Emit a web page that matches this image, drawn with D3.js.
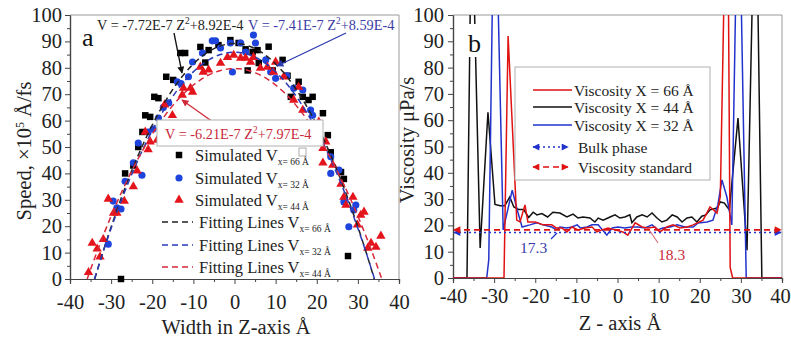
<!DOCTYPE html>
<html><head><meta charset="utf-8">
<script src="https://cdn.jsdelivr.net/npm/d3@7"></script>
<style>
body{margin:0;background:#fff}
svg{display:block}
text{font-family:"Liberation Serif","Times New Roman",serif}
</style>
</head><body>
<svg id="c" width="791" height="339"></svg>
<script>
// ---------------- DATA ----------------
const xTicks = [-40,-30,-20,-10,0,10,20,30,40];
const xMinor = [-35,-25,-15,-5,5,15,25,35];
const yTicks = [0,10,20,30,40,50,60,70,80,90,100];
const yMinor = [5,15,25,35,45,55,65,75,85,95];

// Panel a: simulated speed points [z, v]
const sim66 = [[-27.6,0],[-26.6,40],[-24.6,43],[-23.4,50],[-22.4,55.7],[-21.7,62],[-20.5,61.4],[-19.5,69],[-18.5,68.5],[-16.6,76.6],[-14.9,75.4],[-13.2,85.6],[-12,85.6],[-8.3,87.9],[-7.1,82],[-6.3,86.7],[-3.9,88.6],[-1,90.5],[1,89.4],[2.7,87],[3.2,79],[4.4,86],[5.6,86.7],[5.9,81.8],[8.3,88],[9.3,79],[11.7,83],[12.9,77],[13.7,69],[15.6,74.7],[16.6,69],[18,67.8],[19,69],[21.5,62.8],[22.7,54.5],[23.4,48],[25.9,40.5],[26.6,37.9],[27.6,8.7]];
const sim32 = [[-30.7,13.2],[-29.5,29.5],[-28.6,27],[-27.6,26.5],[-26.6,37],[-24.6,44],[-22.5,39.3],[-23.4,51.5],[-21,55.7],[-19.8,56.8],[-18.5,61],[-17.3,65],[-16,66.7],[-13.9,74.7],[-13,74],[-11.2,76.6],[-10.2,82.2],[-7.8,85.6],[-5.4,90.2],[-4.6,90.2],[-3.4,87.5],[-1,89.4],[-0.5,78.4],[1.5,89.4],[2.7,86],[4.6,92.4],[5.1,89.4],[7.6,83],[8.8,78.4],[10,76],[12.7,77],[14.4,72.3],[16.6,71.6],[18.5,64],[19,62],[23.4,46.3],[23.4,40],[25.4,41.3],[26.6,29.2],[27.8,19.8],[29,26.1],[29.5,28]];
const sim44 = [[-35.5,2.5],[-34.6,13.6],[-33.4,11.4],[-32.7,8.4],[-31.9,15],[-30.7,30.3],[-29.4,25],[-28.6,25],[-26.8,29.5],[-24.6,35],[-23.7,41],[-21,49],[-20.5,52],[-21.7,55.7],[-18.8,52.6],[-15.1,62],[-17,66],[-12.7,69.7],[-12.4,72.3],[-10.7,72.3],[-10.2,70.8],[-8.3,80.3],[-7.6,78.4],[-6.3,79.2],[-3.4,81.8],[-1.7,84],[-0.2,84.8],[1.5,83.7],[2.7,83.7],[3.9,82.2],[4.6,84],[6.3,79.9],[8,80.3],[9.5,78.4],[10,82.2],[12,76.6],[14.4,67.8],[15.6,72.7],[16.6,64],[20.5,59.5],[21.5,49.5],[22.2,52],[21.5,44],[23.9,43.2],[25.9,36],[26.6,31],[27.1,28],[28.8,31],[29.9,20.5],[30.7,24.2],[31.5,25.4],[32.4,11.7],[33.2,13.6],[34.4,12.1],[35.6,16.3]];

// Fitting line coefficients (in units of 1e-5 Å/fs): V = a Z^2 + b
const fitA = [-0.0772, -0.0741, -0.0621];
const fitB = [89.2, 85.9, 79.7];

// Panel b: viscosity profiles [z, viscosity]
const visc66 = [[-40,0],[-27.6,0],[-26.6,92],[-24.5,22],[-23.7,21.3],[-22.5,27.8],[-21.8,21.3],[-20,21.3],[-18.1,20.2],[-16,20.2],[-14.8,19],[-13.5,19],[-12.3,17.5],[-11.1,19.4],[-9.6,18.3],[-7.9,19],[-6.2,19.4],[-5,17.5],[-3.8,18.3],[-2.3,19],[-0.6,18.3],[1.3,17.5],[2.5,16.3],[4.3,21],[6,19.4],[7.4,19],[9.1,19.4],[10.3,17.5],[12,19.4],[13.5,20.2],[15.2,19],[16.9,19.4],[18.4,20.2],[20.8,22],[22.5,27],[24.2,24.7],[25,31],[26.4,150],[26.8,150],[27.4,4],[28,0],[40,0]];
const visc44 = [[-40,0],[-36.6,0],[-35.6,130],[-35.2,130],[-33.4,11.4],[-31.5,63],[-29.8,28],[-28.5,27.5],[-27.4,27.5],[-26.2,30.8],[-25.2,27],[-24,26],[-22.8,26],[-21.6,23],[-20.5,25],[-19.6,24],[-18.4,24.5],[-17,23.2],[-15.7,25],[-14,24.7],[-12.3,23.2],[-10.8,24.3],[-9.6,22.8],[-8.4,23.2],[-6.7,22.8],[-5.5,21.3],[-4.7,22.8],[-3.5,22],[-1.8,23.2],[-0.6,24],[0.6,22.8],[1.8,23.2],[3,24],[3.5,21],[4.7,23.2],[6,24],[7.2,23.2],[8.4,24.7],[9.6,22.8],[10.8,21.3],[12,22],[13.3,24],[14.5,23.2],[15.7,21.3],[16.9,22.8],[18.1,23.2],[19.3,21.3],[20.5,23.5],[21.5,24],[22.5,25.9],[24.2,26.6],[25,28.9],[26,28.5],[27.2,25.9],[29.3,60.8],[31.5,10.6],[33.1,130],[33.9,130],[35.1,0],[40,0]];
const visc32 = [[-40,0],[-31.8,0],[-31.3,7],[-30.2,130],[-29.4,130],[-27.8,18.3],[-25.6,33.4],[-24.4,26],[-23.2,19.4],[-21.3,20.2],[-19.6,21],[-18.1,20.2],[-16,19.4],[-14.7,18.3],[-14,19.4],[-12.3,19],[-11.1,19.4],[-9.8,20.2],[-9,19],[-7.4,19.4],[-6.2,20.2],[-4.7,20.2],[-2.6,16.3],[-1.3,19],[0.1,19.4],[1.8,19],[3.5,19.4],[5,19.4],[6.7,19],[8.4,20.2],[9.8,18.3],[11,19],[12.8,19.4],[14.5,20.2],[16.4,19.4],[18.4,19.4],[19.6,20.9],[21.8,21.3],[23.2,22],[24.4,27.8],[25.4,37.3],[26.6,30.8],[27.8,20.2],[29.0,130],[29.8,130],[31.3,0],[40,0]];
const bulkPhase = 17.3;
const viscStandard = 18.3;

// ---------------- STYLE ----------------
const C = {black:"#000", blue:"#1d44dc", red:"#e4141c", blueTxt:"#3b3ca6", redTxt:"#c82a3a",
           lblack:"#111", lblue:"#2233cc", lred:"#e01212"};

const svg = d3.select("#c");
const defs = svg.append("defs");
function arrowMarker(id, color, w, h){
  defs.append("marker").attr("id",id).attr("viewBox","0 0 10 10").attr("refX",9).attr("refY",5)
    .attr("markerWidth",w).attr("markerHeight",h).attr("orient","auto-start-reverse").attr("markerUnits","userSpaceOnUse")
    .append("path").attr("d","M0,0 L10,5 L0,10 z").attr("fill",color);
}
arrowMarker("arK", "#111", 8, 7);
arrowMarker("arB", "#2b3bb0", 8, 7);
arrowMarker("arR", "#d02a3a", 8, 7);
arrowMarker("arRS", C.lred, 8, 7);
arrowMarker("arBS", C.lblue, 8, 7);

function axes(g, x, y, padX, padY){
  const y0 = y.range()[0], x0 = x.range()[0];
  const fmt = d => String(d);
  g.append("g").attr("transform",`translate(0,${y0})`)
    .call(d3.axisBottom(x).tickValues(xMinor).tickSize(3).tickFormat(""));
  g.append("g").attr("transform",`translate(${x0},0)`)
    .call(d3.axisLeft(y).tickValues(yMinor).tickSize(3).tickFormat(""));
  const ax = g.append("g").attr("transform",`translate(0,${y0})`)
    .call(d3.axisBottom(x).tickValues(xTicks).tickSize(5).tickPadding(padX).tickFormat(fmt));
  const ay = g.append("g").attr("transform",`translate(${x0},0)`)
    .call(d3.axisLeft(y).tickValues(yTicks).tickSize(5).tickPadding(padY).tickFormat(fmt));
  g.selectAll(".domain").attr("stroke","#444").attr("stroke-width",1.2);
  g.selectAll(".tick line").attr("stroke","#444");
  [ax,ay].forEach(a=>a.selectAll("text").attr("font-family",'"Liberation Serif",serif').attr("font-size",20.5).attr("fill","#222"));
  g.append("path").attr("d",`M${x0},${y.range()[1]}H${x.range()[1]}V${y0}`).attr("fill","none").attr("stroke","#9a9a9a").attr("stroke-width",1);
  return ax;
}

// ================= PANEL A =================
const xA = d3.scaleLinear().domain([-40,40]).range([70,399]);
const yA = d3.scaleLinear().domain([0,100]).range([279,15]);
const gA = svg.append("g");
axes(gA, xA, yA, 10, 3);

const sym = (type,size)=>d3.symbol().type(type).size(size)();
function scatter(data, type, size, color){
  gA.append("g").selectAll("path").data(data).join("path")
    .attr("transform", d=>`translate(${xA(d[0])},${yA(d[1])})`)
    .attr("d", sym(type,size)).attr("fill",color);
}
scatter(sim66, d3.symbolSquare, 42, C.black);
scatter(sim32, d3.symbolCircle, 40, C.blue);
scatter(sim44, d3.symbolTriangle, 38, C.red);

const fitCols = ["#222", "#2b3bb8", "#d8283a"];
fitA.forEach((a,i)=>{
  const zr = Math.sqrt(-fitB[i]/a);
  const pts = d3.range(-zr, zr+0.001, zr/60).map(z=>[z, Math.max(0, a*z*z+fitB[i])]);
  gA.append("path").datum(pts)
    .attr("d", d3.line().x(d=>xA(d[0])).y(d=>yA(d[1])))
    .attr("fill","none").attr("stroke",fitCols[i]).attr("stroke-width",1.5).attr("stroke-dasharray","6,4");
});

function eq(g, x, y, pre, post, color, size){
  const t = g.append("text").attr("x",x).attr("y",y).attr("fill",color).attr("font-size",size);
  t.append("tspan").text(pre);
  t.append("tspan").attr("dy",-6).attr("font-size",size*0.65).text("2");
  t.append("tspan").attr("dy",6).text(post);
  return t;
}
eq(gA, 97, 30, "V = -7.72E-7 Z", "+8.92E-4", "#222", 14.3);
eq(gA, 248, 30, "V = -7.41E-7 Z", "+8.59E-4", C.blueTxt, 14.3);
gA.append("line").attr("x1",174).attr("y1",33).attr("x2",182).attr("y2",73)
  .attr("stroke","#111").attr("stroke-width",1.3).attr("marker-end","url(#arK)");
gA.append("line").attr("x1",346).attr("y1",33).attr("x2",277).attr("y2",66)
  .attr("stroke","#2b3bb0").attr("stroke-width",1.3).attr("marker-end","url(#arB)");
gA.append("line").attr("x1",213).attr("y1",122).attr("x2",182).attr("y2",100)
  .attr("stroke","#d02a3a").attr("stroke-width",1.3).attr("marker-end","url(#arR)");
gA.append("rect").attr("x",157).attr("y",120).attr("width",166).attr("height",26)
  .attr("fill","#fff").attr("stroke","#b0b0b0");
eq(gA, 165, 139, "V = -6.21E-7 Z", "+7.97E-4", C.redTxt, 14.3);

gA.append("text").attr("x",82).attr("y",46).attr("font-size",26).attr("fill","#111").text("a");

const legA = [
  {kind:"pt", type:d3.symbolSquare, size:42, color:C.black, txt:"Simulated V", sub:"x= 66 Å"},
  {kind:"pt", type:d3.symbolCircle, size:40, color:C.blue, txt:"Simulated V", sub:"x= 32 Å"},
  {kind:"pt", type:d3.symbolTriangle, size:38, color:C.red, txt:"Simulated V", sub:"x= 44 Å"},
  {kind:"ln", color:fitCols[0], txt:"Fitting Lines V", sub:"x= 66 Å"},
  {kind:"ln", color:fitCols[1], txt:"Fitting Lines V", sub:"x= 32 Å"},
  {kind:"ln", color:fitCols[2], txt:"Fitting Lines V", sub:"x= 44 Å"}
];
const rowsA = [155,178,200,222,245,267];
legA.forEach((d,i)=>{
  const y = rowsA[i];
  if(d.kind==="pt"){
    gA.append("path").attr("transform",`translate(179,${y})`).attr("d",sym(d.type,d.size)).attr("fill",d.color);
  } else {
    gA.append("line").attr("x1",162).attr("x2",193).attr("y1",y).attr("y2",y)
      .attr("stroke",d.color).attr("stroke-width",1.5).attr("stroke-dasharray","6,4");
  }
  const t = gA.append("text").attr("x", d.kind==="pt"?195:199).attr("y",y+5.5).attr("font-size",16.5).attr("fill","#222");
  t.append("tspan").text(d.txt);
  t.append("tspan").attr("dy",4).attr("font-size",9.5).text(d.sub);
});
gA.append("rect").attr("x",299).attr("y",148).attr("width",7).attr("height",8).attr("fill","none").attr("stroke","#999").attr("stroke-width",0.8);

gA.append("text").attr("transform","translate(31,151) rotate(-90)").attr("text-anchor","middle")
  .attr("font-size",20.5).attr("fill","#222")
  .call(t=>{ t.append("tspan").text("Speed, ×10"); t.append("tspan").attr("dy",-7).attr("font-size",12).text("5");
             t.append("tspan").attr("dy",7).text(" Å/fs"); });
gA.append("text").attr("x",236).attr("y",334).attr("text-anchor","middle").attr("font-size",20.5).attr("fill","#222")
  .text("Width in Z-axis Å");

// ================= PANEL B =================
const xB = d3.scaleLinear().domain([-40,40]).range([453,782]);
const yB = d3.scaleLinear().domain([0,100]).range([278,15]);
const gB = svg.append("g");
defs.append("clipPath").attr("id","clipB").append("rect").attr("x",453).attr("y",15).attr("width",329).attr("height",263);
const axB = axes(gB, xB, yB, 5, 4);
axB.selectAll(".tick text").filter(d=>d===40).attr("dx",-2);

const lineB = d3.line().x(d=>xB(d[0])).y(d=>yB(d[1]));
const plotB = gB.append("g").attr("clip-path","url(#clipB)");
[[visc44,C.lblack],[visc32,C.lblue],[visc66,C.lred]].forEach(([data,col])=>{
  plotB.append("path").datum(data).attr("d",lineB).attr("fill","none").attr("stroke",col).attr("stroke-width",1.5);
});

gB.append("line").attr("x1",xB(-40)+1).attr("x2",xB(40)-1).attr("y1",yB(bulkPhase)).attr("y2",yB(bulkPhase))
  .attr("stroke",C.lblue).attr("stroke-width",1.6).attr("stroke-dasharray","2,3")
  .attr("marker-start","url(#arBS)").attr("marker-end","url(#arBS)");
gB.append("line").attr("x1",xB(-40)+1).attr("x2",xB(40)-1).attr("y1",yB(viscStandard)).attr("y2",yB(viscStandard))
  .attr("stroke",C.lred).attr("stroke-width",1.6).attr("stroke-dasharray","6,4")
  .attr("marker-start","url(#arRS)").attr("marker-end","url(#arRS)");

gB.append("text").attr("x",520).attr("y",253).attr("font-size",15.5).attr("fill",C.blueTxt).text("17.3");
gB.append("line").attr("x1",551).attr("y1",239).attr("x2",557).attr("y2",233).attr("stroke",C.lblue).attr("stroke-width",1.3);
gB.append("text").attr("x",658).attr("y",260).attr("font-size",15.5).attr("fill",C.redTxt).text("18.3");
gB.append("line").attr("x1",658).attr("y1",243).attr("x2",650).attr("y2",231).attr("stroke","#e07080").attr("stroke-width",1.2);

gB.append("rect").attr("x",464).attr("y",24).attr("width",22).attr("height",33).attr("fill","#fff");
gB.append("text").attr("x",468).attr("y",52).attr("font-size",26).attr("fill","#111").text("b");

gB.append("rect").attr("x",515).attr("y",67).attr("width",195).attr("height",113).attr("fill","#fff").attr("stroke","#b0b0b0");
const legB = [
  {y:90, kind:"solid", color:C.lred, txt:"Viscosity X = 66 Å", tx:574},
  {y:107, kind:"solid", color:C.lblack, txt:"Viscosity X = 44 Å", tx:574},
  {y:125, kind:"solid", color:C.lblue, txt:"Viscosity X = 32 Å", tx:574},
  {y:147, kind:"dot", color:C.lblue, txt:"Bulk phase", tx:578},
  {y:167, kind:"dash", color:C.lred, txt:"Viscosity standard", tx:578}
];
legB.forEach(d=>{
  const l = gB.append("line").attr("x1",533).attr("x2",d.kind==="solid"?572:568).attr("y1",d.y).attr("y2",d.y)
    .attr("stroke",d.color).attr("stroke-width",1.6);
  if(d.kind==="dot") l.attr("stroke-dasharray","2,3").attr("marker-start","url(#arBS)").attr("marker-end","url(#arBS)");
  if(d.kind==="dash") l.attr("stroke-dasharray","6,4").attr("marker-start","url(#arRS)").attr("marker-end","url(#arRS)");
  gB.append("text").attr("x",d.tx).attr("y",d.y+5.5).attr("font-size",15.5).attr("fill","#222").text(d.txt);
});

gB.append("text").attr("transform","translate(414,140) rotate(-90)").attr("text-anchor","middle")
  .attr("font-size",20.5).attr("fill","#222").text("Viscosity μPa/s");
gB.append("text").attr("x",620).attr("y",330).attr("text-anchor","middle").attr("font-size",20.5).attr("fill","#222")
  .text("Z - axis Å");
</script>
</body></html>
